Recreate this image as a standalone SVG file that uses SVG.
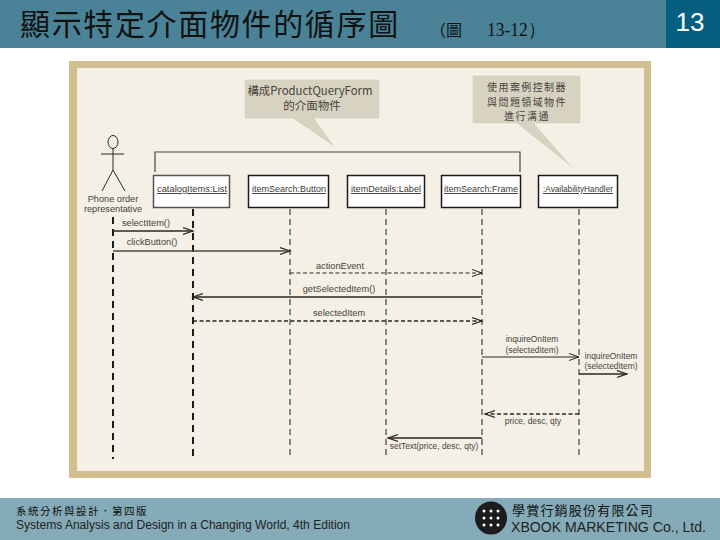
<svg xmlns="http://www.w3.org/2000/svg" width="720" height="540" viewBox="0 0 720 540">
<style>
text{font-family:"Liberation Sans",Arial,"Noto Sans CJK TC",sans-serif;fill:#45413c}
.t{font-size:9.2px;text-anchor:middle}
.s{font-size:8.4px;text-anchor:middle}
.n{font-size:9.4px;text-anchor:middle;fill:#3c3935;text-decoration:underline}
.cjk{font-family:"Noto Sans CJK TC","Liberation Sans",sans-serif;font-size:11.5px;text-anchor:middle}
.cjk2{font-family:"Noto Sans CJK TC","Liberation Sans",sans-serif;font-size:10px;letter-spacing:1.4px;text-anchor:middle}
.box{fill:#fff;stroke:#1c1a18;stroke-width:1.5}
.callout{fill:#d8d3c1;stroke:#f8f5ec;stroke-width:1}
.life{stroke:#1c1a18;stroke-width:1;stroke-dasharray:6 4;fill:none}
.lifeb{stroke:#1c1a18;stroke-width:2;stroke-dasharray:7 5;fill:none}
.m{stroke:#2a2724;stroke-width:1;fill:none;marker-end:url(#open)}
.mb{stroke:#2a2724;stroke-width:1.7;fill:none;marker-end:url(#openb)}
.d{stroke-dasharray:4 2.5}
.act{stroke:#2a2724;stroke-width:1;fill:none}
</style>
<defs>
<marker id="open" markerUnits="userSpaceOnUse" markerWidth="12" markerHeight="12" refX="10" refY="6" orient="auto"><path d="M0 2.5L10 6L0 9.5" fill="none" stroke="#2a2724" stroke-width="1"/></marker>
<marker id="openb" markerUnits="userSpaceOnUse" markerWidth="12" markerHeight="12" refX="10" refY="6" orient="auto"><path d="M0 2.5L10 6L0 9.5" fill="none" stroke="#2a2724" stroke-width="1.2"/></marker>
</defs>
<rect width="720" height="540" fill="#fff"/>
<rect width="720" height="48" fill="#4a8398"/>
<rect x="666" width="54" height="48" fill="#045f80"/>
<text x="20" y="35" font-size="30" letter-spacing="1.65" style="font-family:'Noto Sans CJK TC',sans-serif;fill:#111">顯示特定介面物件的循序圖</text>
<text x="430" y="36" font-size="16" style="font-family:'Noto Sans CJK TC',sans-serif;fill:#111">（圖</text>
<text x="487" y="36" font-size="19" style="font-family:'Liberation Serif',serif;fill:#111" textLength="58" lengthAdjust="spacingAndGlyphs">13-12）</text>
<text x="690" y="31" font-size="26" text-anchor="middle" style="fill:#fff">13</text>
<rect x="69" y="61" width="582" height="417" fill="#d2bf8f"/>
<rect x="77" y="68" width="567" height="403" fill="#f5f0e5"/>
<g id="note1">
<path class="callout" d="M244 79H380V119H315L337 149L293 119H244Z"/>
<text class="cjk" x="310" y="95" textLength="125" lengthAdjust="spacingAndGlyphs">構成ProductQueryForm</text>
<text class="cjk" x="312" y="110">的介面物件</text>
</g>
<g id="note2">
<path class="callout" d="M472 75H581V124H535L577 172L517 124H472Z"/>
<text class="cjk2" x="527" y="91">使用案例控制器</text>
<text class="cjk2" x="527" y="105.500">與問題領域物件</text>
<text class="cjk2" x="527" y="120">進行溝通</text>
</g>
<g id="bracket"><path d="M155 172V152H520V172" fill="none" stroke="#4a4640" stroke-width="1.2"/></g>
<g id="actor">
<ellipse class="act" cx="113" cy="142" rx="5" ry="6.5"/>
<path class="act" d="M113 148V170M101 154H124M102 191L113 170L125 191"/>
<text class="t" x="113" y="202">Phone order</text>
<text class="t" x="113" y="212">representative</text>
<path class="lifeb" d="M113 217V459"/>
</g>
<g id="catalogItems">
<rect class="box" x="153.500" y="175.500" width="76" height="32" style="stroke:#55504a"/>
<text class="n" x="192" y="192" textLength="70" lengthAdjust="spacingAndGlyphs">catalogItems:List</text>
<path class="lifeb" d="M193 209V459"/>
</g>
<g id="itemSearchButton">
<rect class="box" x="248.500" y="175.500" width="80" height="32"/>
<text class="n" x="289" y="192" textLength="74" lengthAdjust="spacingAndGlyphs">itemSearch:Button</text>
<path class="life" d="M290 209V459"/>
</g>
<g id="itemDetailsLabel">
<rect class="box" x="347.500" y="175.500" width="77" height="32"/>
<text class="n" x="386" y="192" textLength="70" lengthAdjust="spacingAndGlyphs">itemDetails:Label</text>
<path class="life" d="M386 209V459"/>
</g>
<g id="itemSearchFrame">
<rect class="box" x="441.500" y="175.500" width="79" height="32"/>
<text class="n" x="481" y="192" textLength="74" lengthAdjust="spacingAndGlyphs">itemSearch:Frame</text>
<path class="life" d="M482 209V459"/>
</g>
<g id="availabilityHandler">
<rect class="box" x="538.500" y="175.500" width="79" height="32"/>
<text class="n" x="578" y="192" textLength="70" lengthAdjust="spacingAndGlyphs">:AvailabilityHandler</text>
<path class="life" d="M579 209V459"/>
</g>
<g id="connectors">
<path class="mb" d="M113 231H193"/>
<path class="mb" d="M113 251H290" style="stroke:#4d4944"/>
<path class="m d" d="M290 273H482"/>
<path class="mb" d="M482 297H193"/>
<path class="mb d" d="M193 321H482"/>
<path class="m" d="M482 357H579"/>
<path class="mb" d="M579 374H627"/>
<path class="mb d" d="M579 414H485"/>
<path class="mb" d="M482 438H388"/>
</g>
<g id="labels">
<text class="t" x="146" y="226">selectItem()</text>
<text class="t" x="152" y="245">clickButton()</text>
<text class="t" x="340" y="269">actionEvent</text>
<text class="t" x="339" y="292">getSelectedItem()</text>
<text class="t" x="339" y="316">selectedItem</text>
<text class="s" x="532" y="342">inquireOnItem</text>
<text class="s" x="532" y="353">(selectedItem)</text>
<text class="s" x="611" y="359">inquireOnItem</text>
<text class="s" x="611" y="369">(selectedItem)</text>
<text class="s" x="533" y="424">price, desc, qty</text>
<text class="s" x="434" y="449">setText(price, desc, qty)</text>
</g>
<rect y="498" width="720" height="42" fill="#84abb7"/>
<text x="16" y="515" font-size="10.500" letter-spacing="1.5" style="font-family:'Noto Sans CJK TC',sans-serif;fill:#111">系統分析與設計．第四版</text>
<text x="16" y="529" font-size="12.300" style="fill:#222" textLength="334" lengthAdjust="spacingAndGlyphs">Systems Analysis and Design in a Changing World, 4th Edition</text>
<g id="logo">
<ellipse cx="491" cy="518" rx="16" ry="16.500" fill="#1c1c1e"/>
<g fill="#fff">
<circle cx="484" cy="511" r="1.500"/><circle cx="491" cy="511" r="1.500"/><circle cx="498" cy="511" r="1.500"/>
<circle cx="484" cy="518" r="1.500"/><circle cx="491" cy="518" r="1.500"/><circle cx="498" cy="518" r="1.500"/>
<circle cx="484" cy="525" r="1.500"/><circle cx="491" cy="525" r="1.500"/><circle cx="498" cy="525" r="1.500"/>
</g>
</g>
<text x="512" y="515" font-size="13" letter-spacing="1.2" style="font-family:'Noto Sans CJK TC',sans-serif;fill:#111">學賞行銷股份有限公司</text>
<text x="511" y="532" font-size="14" style="fill:#222" textLength="195" lengthAdjust="spacingAndGlyphs">XBOOK MARKETING Co., Ltd.</text>
</svg>
